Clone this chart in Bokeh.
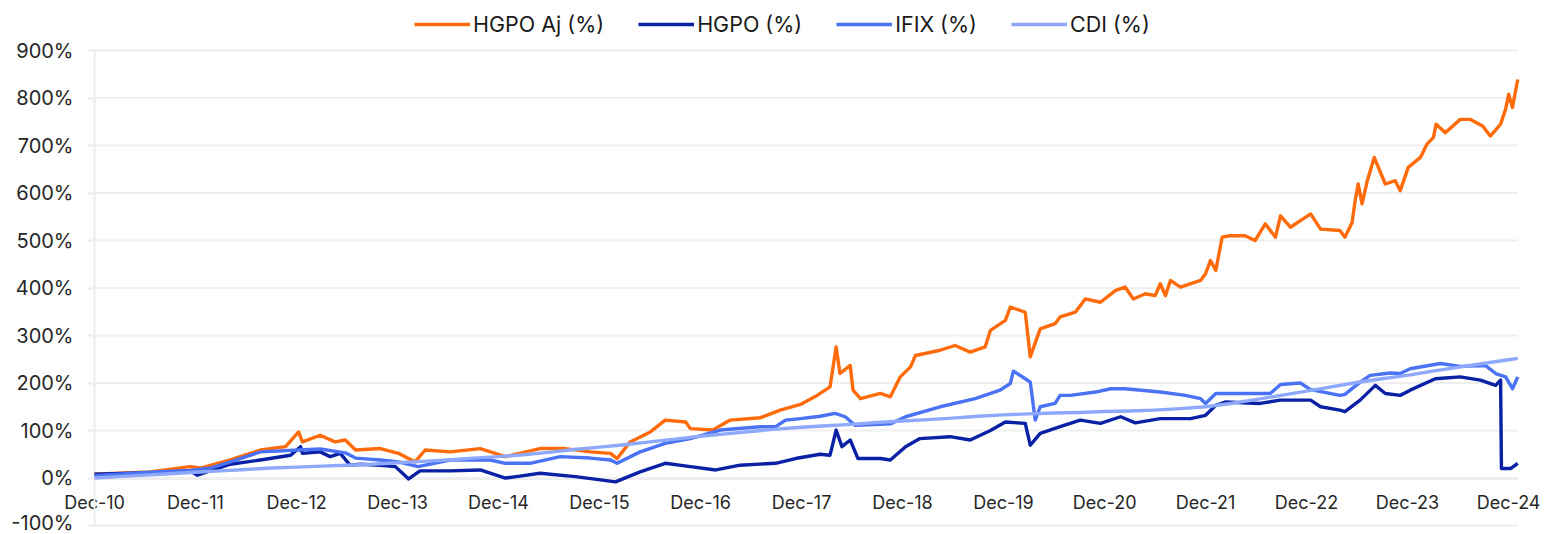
import pandas as pd
from bokeh.plotting import figure
from bokeh.models import (ColumnDataSource, Range1d, FixedTicker, DatetimeTickFormatter,
                          PrintfTickFormatter, Legend, LegendItem)
from bokeh.embed import file_html
from bokeh.resources import INLINE

# ---------------- data (cumulative return, %) ----------------
tick_dates = ["2010-12-31", "2011-12-31", "2012-12-31", "2013-12-31", "2014-12-31",
              "2015-12-31", "2016-12-31", "2017-12-31", "2018-12-31", "2019-12-31",
              "2020-12-31", "2021-12-31", "2022-12-31", "2023-12-31", "2024-12-31"]
y_ticks = [-100, 0, 100, 200, 300, 400, 500, 600, 700, 800, 900]
axis_start, axis_end = "2010-12-31", "2025-02-03"

hgpo_aj_dates = ["2010-12-31", "2011-07-20", "2011-12-12", "2012-01-18", "2012-05-05", "2012-08-22",
                 "2012-11-21", "2013-01-07", "2013-01-21", "2013-03-26", "2013-05-19", "2013-06-25",
                 "2013-08-01", "2013-10-30", "2014-01-03", "2014-03-04", "2014-04-10", "2014-07-09",
                 "2014-10-26", "2015-01-25", "2015-05-30", "2015-08-29", "2015-11-28", "2016-02-09",
                 "2016-03-04", "2016-04-20", "2016-07-02", "2016-08-25", "2016-11-07", "2016-11-24",
                 "2017-02-13", "2017-04-17", "2017-08-04", "2017-10-15", "2017-12-27", "2018-02-20",
                 "2018-04-13", "2018-05-05", "2018-05-19", "2018-06-25", "2018-07-05", "2018-08-01",
                 "2018-10-12", "2018-11-17", "2018-12-23", "2019-01-29", "2019-02-16", "2019-05-16",
                 "2019-07-09", "2019-09-02", "2019-10-26", "2019-11-14", "2020-01-07", "2020-01-25",
                 "2020-03-19", "2020-04-06", "2020-05-12", "2020-07-05", "2020-07-23", "2020-09-16",
                 "2020-10-22", "2020-12-16", "2021-02-09", "2021-03-15", "2021-04-14", "2021-05-27",
                 "2021-07-02", "2021-07-20", "2021-08-08", "2021-08-26", "2021-10-01", "2021-12-13",
                 "2021-12-31", "2022-01-18", "2022-02-06", "2022-03-01", "2022-03-30", "2022-05-23",
                 "2022-06-28", "2022-08-04", "2022-09-10", "2022-09-28", "2022-11-03", "2022-12-09",
                 "2023-01-15", "2023-02-20", "2023-05-01", "2023-05-19", "2023-06-14", "2023-06-25",
                 "2023-07-06", "2023-07-20", "2023-08-08", "2023-09-02", "2023-10-12", "2023-11-17",
                 "2023-12-05", "2024-01-03", "2024-02-16", "2024-03-11", "2024-04-03", "2024-04-13",
                 "2024-05-16", "2024-07-09", "2024-08-15", "2024-09-28", "2024-10-26", "2024-12-02",
                 "2024-12-20", "2024-12-31", "2025-01-14", "2025-01-25", "2025-02-02"]
hgpo_aj_vals = [8, 13, 24, 21, 38, 59,
                66, 97, 76, 90, 76, 80,
                59, 62, 52, 34, 59, 55,
                62, 45, 62, 62, 55, 52,
                41, 76, 97, 122, 118, 104,
                101, 122, 127, 143, 155, 172,
                192, 276, 220, 237, 185, 167,
                178, 171, 213, 234, 258, 269,
                279, 265, 276, 311, 332, 360,
                349, 255, 314, 325, 339, 349,
                377, 370, 395, 402, 377, 388,
                384, 409, 384, 416, 402, 416,
                430, 458, 437, 507, 510, 510,
                500, 535, 507, 552, 528, 542,
                556, 524, 521, 507, 538, 584,
                619, 577, 626, 675, 619, 626,
                605, 654, 675, 703, 717, 745,
                727, 755, 755, 741, 720, 745,
                776, 808, 780, 815, 839]

hgpo_dates = ["2010-12-31", "2011-07-20", "2011-12-12", "2012-01-07", "2012-05-05", "2012-08-22",
              "2012-12-09", "2013-01-14", "2013-01-21", "2013-03-26", "2013-05-01", "2013-06-07",
              "2013-07-12", "2013-08-18", "2013-10-30", "2013-12-23", "2014-02-09", "2014-03-22",
              "2014-07-09", "2014-10-26", "2015-01-25", "2015-03-19", "2015-05-30", "2015-10-05",
              "2016-01-04", "2016-02-27", "2016-05-26", "2016-08-25", "2016-11-24", "2017-02-24",
              "2017-05-23", "2017-09-28", "2017-12-09", "2018-03-08", "2018-04-13", "2018-05-05",
              "2018-05-26", "2018-06-25", "2018-07-23", "2018-10-12", "2018-11-17", "2019-01-11",
              "2019-03-04", "2019-06-21", "2019-09-02", "2019-11-14", "2020-01-07", "2020-03-19",
              "2020-04-06", "2020-05-12", "2020-07-23", "2020-10-04", "2020-12-16", "2021-02-27",
              "2021-04-21", "2021-07-20", "2021-11-07", "2021-12-31", "2022-02-06", "2022-03-12",
              "2022-07-16", "2022-09-28", "2023-01-15", "2023-02-20", "2023-05-01", "2023-05-19",
              "2023-07-13", "2023-09-06", "2023-10-12", "2023-12-05", "2024-01-10", "2024-04-10",
              "2024-07-09", "2024-09-20", "2024-11-14", "2024-12-02", "2024-12-05", "2025-01-07",
              "2025-02-02"]
hgpo_vals = [8, 11, 15, 6, 29, 38,
             48, 66, 52, 55, 45, 52,
             27, 29, 27, 24, -2, 15,
             15, 17, 0, 4, 10, 3,
             -4, -8, 13, 31, 24, 17,
             27, 31, 41, 50, 48, 101,
             66, 80, 41, 41, 38, 66,
             83, 87, 80, 100, 118, 115,
             69, 94, 108, 122, 115, 129,
             116, 125, 125, 132, 153, 160,
             157, 164, 164, 150, 143, 140,
             164, 195, 178, 174, 185, 209,
             213, 206, 195, 206, 20, 20,
             31]

ifix_dates = ["2010-12-31", "2011-07-20", "2011-12-12", "2012-02-23", "2012-05-05", "2012-08-22",
              "2013-01-07", "2013-03-26", "2013-06-25", "2013-08-01", "2013-10-30", "2014-01-03",
              "2014-03-15", "2014-07-09", "2014-12-01", "2015-01-25", "2015-04-24", "2015-08-11",
              "2015-11-28", "2016-02-09", "2016-03-04", "2016-05-26", "2016-08-25", "2016-11-24",
              "2017-03-12", "2017-08-04", "2017-09-28", "2017-11-03", "2017-12-27", "2018-03-08",
              "2018-05-01", "2018-06-07", "2018-07-12", "2018-10-12", "2018-11-17", "2019-01-11",
              "2019-05-16", "2019-09-20", "2019-12-19", "2020-01-25", "2020-02-05", "2020-03-19",
              "2020-04-06", "2020-04-24", "2020-05-12", "2020-07-05", "2020-07-23", "2020-08-29",
              "2020-11-28", "2021-01-22", "2021-03-15", "2021-07-20", "2021-10-19", "2021-12-13",
              "2021-12-31", "2022-02-06", "2022-05-05", "2022-08-22", "2022-09-28", "2022-12-09",
              "2023-01-15", "2023-05-01", "2023-05-19", "2023-07-13", "2023-08-18", "2023-10-30",
              "2023-12-05", "2024-01-10", "2024-04-28", "2024-07-09", "2024-10-08", "2024-11-14",
              "2024-12-20", "2025-01-14", "2025-02-02"]
ifix_vals = [5, 12, 16, 21, 34, 55,
             59, 61, 53, 42, 38, 34,
             24, 38, 38, 31, 31, 45,
             42, 38, 31, 55, 73, 83,
             101, 108, 108, 122, 125, 130,
             136, 129, 111, 113, 114, 129,
             150, 167, 185, 199, 225, 209,
             202, 122, 150, 157, 174, 174,
             181, 188, 188, 181, 174, 167,
             157, 178, 178, 178, 197, 200,
             186, 174, 176, 202, 216, 221,
             220, 230, 241, 235, 237, 220,
             213, 188, 213]

cdi_dates = ["2010-12-31", "2011-03-31", "2011-06-30", "2011-09-30", "2011-12-31", "2012-03-31",
             "2012-06-30", "2012-09-30", "2012-12-31", "2013-03-31", "2013-06-30", "2013-09-30",
             "2013-12-31", "2014-03-31", "2014-06-30", "2014-09-30", "2014-12-31", "2015-03-31",
             "2015-06-30", "2015-09-30", "2015-12-31", "2016-03-31", "2016-06-30", "2016-09-30",
             "2016-12-31", "2017-03-31", "2017-06-30", "2017-09-30", "2017-12-31", "2018-03-31",
             "2018-06-30", "2018-09-30", "2018-12-31", "2019-03-31", "2019-06-30", "2019-09-30",
             "2019-12-31", "2020-03-31", "2020-06-30", "2020-09-30", "2020-12-31", "2021-03-31",
             "2021-06-30", "2021-09-30", "2021-12-31", "2022-03-31", "2022-06-30", "2022-09-30",
             "2022-12-31", "2023-03-31", "2023-06-30", "2023-09-30", "2023-12-31", "2024-03-31",
             "2024-06-30", "2024-09-30", "2024-12-31", "2025-02-02"]
cdi_vals = [0, 3, 6, 9, 12, 15,
            18, 21, 23, 25, 27, 29,
            32, 35, 38, 42, 45, 49,
            54, 60, 65, 70, 76, 82,
            88, 93, 98, 103, 107, 110,
            113, 117, 120, 123, 126, 130,
            133, 135, 137, 138, 140, 141,
            143, 146, 150, 157, 165, 174,
            183, 192, 201, 209, 216, 225,
            233, 241, 249, 252]

series = [
    ("HGPO Aj (%)", hgpo_aj_dates, hgpo_aj_vals, "#FF6B0A"),
    ("HGPO (%)", hgpo_dates, hgpo_vals, "#0A21A6"),
    ("IFIX (%)", ifix_dates, ifix_vals, "#4A72F4"),
    ("CDI (%)", cdi_dates, cdi_vals, "#8EA9FB"),
]

FONT = "Inter"
W, H = 1546, 534

# the frame fills the whole canvas; axes are drawn at fixed locations inside it
p = figure(width=W, height=H, x_axis_type="datetime",
           output_backend="svg", toolbar_location=None,
           x_range=Range1d(pd.Timestamp("2010-01-25"), pd.Timestamp("2025-05-17")),
           y_range=Range1d(-118.9, 1005.3),
           min_border_left=0, min_border_right=0, min_border_bottom=0, min_border_top=0)
p.outline_line_color = None
p.background_fill_color = "white"
p.border_fill_color = "white"
p.xgrid.visible = False
p.ygrid.visible = False

# horizontal gridlines, limited to the axis extent
gsrc = ColumnDataSource(dict(x0=[pd.Timestamp(axis_start)] * len(y_ticks),
                             x1=[pd.Timestamp(axis_end)] * len(y_ticks),
                             y=y_ticks))
p.segment("x0", "y", "x1", "y", source=gsrc, line_color="#efefef", line_width=2)

items = []
for name, d, v, c in series:
    src = ColumnDataSource(dict(x=pd.to_datetime(d), y=v))
    r = p.line("x", "y", source=src, line_color=c, line_width=3.4, line_join="round")
    items.append(LegendItem(label=name, renderers=[r]))

start_ms = pd.Timestamp(axis_start).value // 10**6
end_ms = pd.Timestamp(axis_end).value // 10**6

# y axis at the first date
ya = p.yaxis[0]
ya.fixed_location = start_ms
ya.bounds = (-100, 900)
ya.ticker = FixedTicker(ticks=y_ticks)
ya.formatter = PrintfTickFormatter(format="%d%%")
ya.axis_line_color = "#ececec"
ya.axis_line_width = 2
ya.major_tick_line_color = "#ececec"
ya.major_tick_line_width = 2
ya.major_tick_out = 7
ya.major_tick_in = 0
ya.minor_tick_line_color = None
ya.major_label_standoff = 14
ya.major_label_text_font = FONT
ya.major_label_text_font_size = "20px"
ya.major_label_text_color = "#262626"
ya.level = "underlay"

# x axis drawn at y = 0
xa = p.xaxis[0]
xa.fixed_location = 0
xa.bounds = (start_ms, end_ms)
xa.ticker = FixedTicker(ticks=[pd.Timestamp(t).value // 10**6 for t in tick_dates])
fmt = "%b-%y"
xa.formatter = DatetimeTickFormatter(years=fmt, months=fmt, days=fmt, hours=fmt,
                                     minutes=fmt, seconds=fmt, milliseconds=fmt,
                                     microseconds=fmt, hourmin=fmt, minsec=fmt)
xa.axis_line_color = "#d9d9d9"
xa.axis_line_width = 2
xa.major_tick_line_color = None
xa.minor_tick_line_color = None
xa.major_tick_out = 0
xa.major_tick_in = 0
xa.major_label_standoff = 14
xa.major_label_text_font = FONT
xa.major_label_text_font_size = "18px"
xa.major_label_text_color = "#262626"
xa.level = "underlay"

legend = Legend(items=items, orientation="horizontal", location=(414, 497),
                label_text_font=FONT, label_text_font_size="21.5px",
                label_text_color="#1a1a1a", glyph_width=56, glyph_height=20,
                label_height=20, label_standoff=3, spacing=34,
                padding=5, margin=0, border_line_color=None,
                background_fill_alpha=0)
p.add_layout(legend)

open("out.html", "w").write(file_html(p, INLINE))
